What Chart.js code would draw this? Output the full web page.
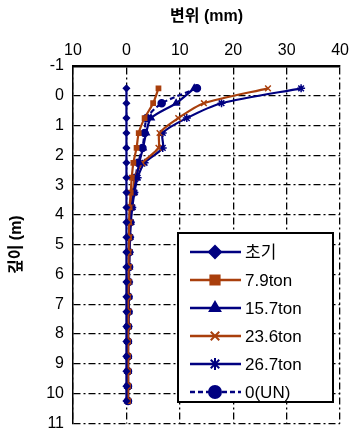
<!DOCTYPE html>
<html><head><meta charset="utf-8">
<script src="https://cdn.jsdelivr.net/npm/chart.js@4/dist/chart.umd.min.js"></script>
<style>html,body{margin:0;padding:0;background:#fff;}#wrap{width:355px;height:442px;}</style>
</head><body><div id="wrap"><canvas id="c" width="355" height="442"></canvas></div>
<script>
const depths = [-0.25,0.25,0.75,1.25,1.75,2.25,2.75,3.25,3.75,4.25,4.75,5.25,5.75,6.25,6.75,7.25,7.75,8.25,8.75,9.25,9.75,10.25];
const seriesNames = ['초기','7.9ton','15.7ton','23.6ton','26.7ton','0(UN)'];
const init   = [0,0,0,0,0,0,0,0,0,0,0,0,0,0,0,0,0,0,0,0,0,0];
const t7_9   = [6.0,5.0,3.4,2.3,1.9,1.3,1.0,0.8,0.6,0.5,0.5,0.4,0.4,0.4,0.3,0.3,0.3,0.3,0.3,0.3,0.3,0.3];
const t15_7  = [12.7,9.3,4.6,3.7,3.1,2.4,1.9,1.4,1.0,0.8,0.6,0.5,0.5,0.4,0.4,0.4,0.3,0.3,0.3,0.3,0.3,0.3];
const t23_6  = [26.5,14.5,9.7,6.2,6.0,3.0,1.6,1.2,0.9,0.7,0.6,0.5,0.5,0.4,0.4,0.4,0.3,0.3,0.3,0.3,0.3,0.3];
const t26_7  = [32.7,17.8,11.3,6.8,6.8,3.4,2.1,1.5,1.1,0.8,0.7,0.6,0.5,0.5,0.4,0.4,0.4,0.3,0.3,0.3,0.3,0.3];
const unload = [13.2,6.6,3.8,3.4,3.0,2.2,1.7,1.3,0.9,0.7,0.6,0.5,0.5,0.4,0.4,0.4,0.3,0.3,0.3,0.3,0.3,0.3];
const xTickLabels = ['10','0','10','20','30','40'];
const yTickLabels = ['-1','0','1','2','3','4','5','6','7','8','9','10','11'];
const xTitle = '변위 (mm)';
const yTitle = '깊이 (m)';

const NAVY = '#000080', ORANGE = '#A93F0C';
const FONT = "'Liberation Sans', Arial, 'Noto Sans CJK KR', sans-serif";
const styles = [
  {c:NAVY, ps:'rectRot', r:3, lr:6, dash:[]},
  {c:ORANGE, ps:'rect', r:3, lr:6.5, dash:[]},
  {c:NAVY, ps:'triangle', r:3.5, lr:6, dash:[]},
  {c:ORANGE, ps:'crossRot', r:4, lr:6, dash:[]},
  {c:NAVY, ps:'star', r:4, lr:6, dash:[]},
  {c:NAVY, ps:'circle', r:3.5, lr:6, dash:[5,3]}
];
const vals = [init,t7_9,t15_7,t23_6,t26_7,unload];
const datasets = vals.map((v,i)=>({
  label: seriesNames[i],
  data: v.map((x,k)=>({x:x,y:depths[k]})),
  borderColor: styles[i].c, backgroundColor: styles[i].c,
  pointBackgroundColor: styles[i].c, pointBorderColor: styles[i].c,
  pointStyle: styles[i].ps, pointRadius: styles[i].r, pointBorderWidth: 1.5,
  borderWidth: 2.2, borderDash: styles[i].dash, tension: 0.25, showLine: true
}));

const legendPlugin = {
  id:'boxLegend',
  afterDraw(chart){
    const ctx = chart.ctx;
    const bx=178, by=233, bw=155, bh=169;
    ctx.save();
    ctx.fillStyle='#fff'; ctx.fillRect(bx,by,bw,bh);
    ctx.strokeStyle='#000'; ctx.lineWidth=2; ctx.setLineDash([]);
    ctx.strokeRect(bx,by,bw,bh);
    const rows=[252,280,308,336,364,392];
    seriesNames.forEach((n,i)=>{
      const s=styles[i], y=rows[i];
      ctx.strokeStyle=s.c; ctx.lineWidth=2.5; ctx.setLineDash(s.dash);
      ctx.beginPath(); ctx.moveTo(190,y); ctx.lineTo(241,y); ctx.stroke();
      ctx.setLineDash([]);
      ctx.fillStyle=s.c; ctx.strokeStyle=s.c; ctx.lineWidth=2;
      Chart.helpers.drawPoint(ctx,{pointStyle:s.ps,radius:s.lr,rotation:0,borderWidth:2},215,y);
      ctx.fillStyle='#000'; ctx.font='17px '+FONT; ctx.textBaseline='middle'; ctx.textAlign='left';
      ctx.fillText(n,245,y+1);
    });
    ctx.restore();
  }
};

new Chart(document.getElementById('c'),{
  type:'scatter',
  data:{datasets},
  plugins:[legendPlugin],
  options:{
    responsive:false, animation:false, devicePixelRatio:1,
    layout:{padding:{left:0,top:0,right:13,bottom:11}},
    plugins:{legend:{display:false},tooltip:{enabled:false}},
    scales:{
      x:{type:'linear',position:'top',min:-10,max:40,
        ticks:{stepSize:10,color:'#000',font:{family:FONT,size:16},padding:6,
          callback:(v)=>xTickLabels[Math.round((v+10)/10)]},
        grid:{color:'#000',lineWidth:1.3,drawTicks:false},
        border:{display:true,color:'#000',width:2.5,dash:[7,3,2,3]},
        title:{display:true,text:xTitle,color:'#000',font:{family:FONT,size:16,weight:'bold'},padding:{top:7,bottom:4}},
        afterFit(s){s.height=66;}
      },
      y:{type:'linear',reverse:true,min:-1,max:11,
        ticks:{stepSize:1,color:'#000',font:{family:FONT,size:16},padding:9,
          callback:(v)=>yTickLabels[Math.round(v+1)]},
        grid:{color:'#000',lineWidth:1.3,drawTicks:false},
        border:{display:true,color:'#000',width:1.5,dash:[7,3,2,3]},
        title:{display:true,text:yTitle,color:'#000',font:{family:FONT,size:16,weight:'bold'},padding:{top:7,bottom:4}},
        afterFit(s){s.width=73;}
      }
    }
  }
});
</script></body></html>
